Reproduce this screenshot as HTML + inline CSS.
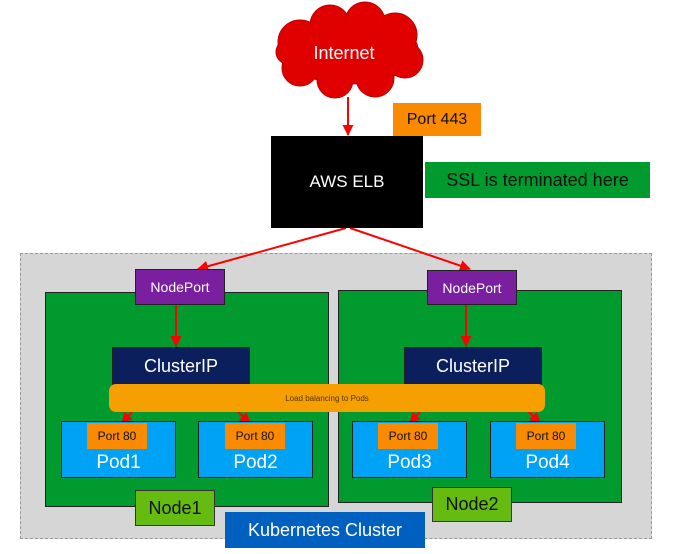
<!DOCTYPE html>
<html><head><style>
body{margin:0;width:674px;height:554px;background:#fff;position:relative;overflow:hidden;font-family:"Liberation Sans",sans-serif}
.b{position:absolute;box-sizing:border-box;display:flex;align-items:center;justify-content:center}
</style></head><body>
<div class="b" style="left:20px;top:253px;width:632px;height:286px;background:#d6d6d6;border:1px dashed #999"></div>
<div class="b" style="left:45px;top:292px;width:284px;height:215px;background:#009a2e;border:1px solid #222"></div>
<div class="b" style="left:338px;top:290px;width:284px;height:213px;background:#009a2e;border:1px solid #222"></div>
<svg style="position:absolute;left:0;top:0" width="674" height="554">
<defs><marker id="a" markerWidth="11" markerHeight="11" refX="10" refY="5.5" orient="auto" markerUnits="userSpaceOnUse"><path d="M0,0L11,5.5L0,11z" fill="#f00"/></marker></defs>
<g fill="#e00000" stroke="#b00" stroke-width="1">
<ellipse cx="350" cy="50" rx="68" ry="34"/>
<circle cx="300" cy="42" r="22"/><circle cx="330" cy="25" r="20"/><circle cx="365" cy="22" r="20"/><circle cx="395" cy="35" r="22"/><circle cx="405" cy="60" r="18"/><circle cx="375" cy="78" r="19"/><circle cx="335" cy="80" r="18"/><circle cx="300" cy="68" r="18"/><circle cx="288" cy="52" r="12"/>
</g>
<g fill="#e00000"><ellipse cx="350" cy="50" rx="66" ry="32"/><circle cx="330" cy="27" r="18"/><circle cx="365" cy="24" r="18"/><circle cx="395" cy="37" r="20"/><circle cx="300" cy="44" r="20"/><circle cx="375" cy="76" r="17"/><circle cx="335" cy="78" r="16"/><circle cx="300" cy="66" r="16"/><circle cx="403" cy="60" r="16"/></g>
<text x="344" y="59" fill="#fff" font-size="18" text-anchor="middle" font-family="Liberation Sans">Internet</text>
<g stroke="#f00" stroke-width="2" marker-end="url(#a)">
<line x1="348" y1="97" x2="348" y2="135"/>
<line x1="346" y1="228" x2="198" y2="269"/>
<line x1="350" y1="228" x2="470" y2="269"/>
<line x1="176" y1="305" x2="176" y2="346"/>
<line x1="466" y1="305" x2="466" y2="346"/>
<line x1="132" y1="412" x2="122" y2="423"/>
<line x1="236" y1="410" x2="250" y2="423"/>
<line x1="420" y1="412" x2="410" y2="423"/>
<line x1="527" y1="410" x2="540" y2="423"/>
</g>
</svg>
<div class="b" style="left:393px;top:103px;width:88px;height:33px;background:#fa8a00;font-size:16px;color:#111">Port 443</div>
<div class="b" style="left:271px;top:136px;width:152px;height:92px;background:#000;color:#fff;font-size:17px">AWS ELB</div>
<div class="b" style="left:425px;top:162px;width:225px;height:36px;background:#009a2e;color:#111;font-size:18px">SSL is terminated here</div>
<div class="b" style="left:135px;top:269px;width:90px;height:36px;background:#7a1fa0;border:1px solid #222;color:#fff;font-size:14px">NodePort</div>
<div class="b" style="left:427px;top:270px;width:90px;height:35px;background:#7a1fa0;border:1px solid #222;color:#fff;font-size:14px">NodePort</div>
<div class="b" style="left:112px;top:347px;width:138px;height:38px;background:#0a1f5c;border:1px solid #222;color:#fff;font-size:18px">ClusterIP</div>
<div class="b" style="left:404px;top:347px;width:138px;height:38px;background:#0a1f5c;border:1px solid #222;color:#fff;font-size:18px">ClusterIP</div>
<div class="b" style="left:109px;top:384px;width:436px;height:28px;background:#f5a000;border-radius:7px;color:#553300;font-size:8px">Load balancing to Pods</div>
<div class="b" style="left:61px;top:421px;width:115px;height:57px;background:#00a2f5;border:1px solid #222;color:#fff;font-size:19px;padding-top:26px">Pod1</div>
<div class="b" style="left:198px;top:421px;width:115px;height:57px;background:#00a2f5;border:1px solid #222;color:#fff;font-size:19px;padding-top:26px">Pod2</div>
<div class="b" style="left:352px;top:421px;width:115px;height:57px;background:#00a2f5;border:1px solid #222;color:#fff;font-size:19px;padding-top:26px">Pod3</div>
<div class="b" style="left:490px;top:421px;width:115px;height:57px;background:#00a2f5;border:1px solid #222;color:#fff;font-size:19px;padding-top:26px">Pod4</div>
<div class="b" style="left:87px;top:423px;width:60px;height:26px;background:#fa8a00;font-size:12px;color:#111">Port 80</div>
<div class="b" style="left:225px;top:423px;width:60px;height:26px;background:#fa8a00;font-size:12px;color:#111">Port 80</div>
<div class="b" style="left:378px;top:423px;width:60px;height:26px;background:#fa8a00;font-size:12px;color:#111">Port 80</div>
<div class="b" style="left:516px;top:423px;width:60px;height:26px;background:#fa8a00;font-size:12px;color:#111">Port 80</div>
<div class="b" style="left:135px;top:490px;width:80px;height:36px;background:#66bb10;border:1px solid #333;font-size:18px;color:#111">Node1</div>
<div class="b" style="left:432px;top:487px;width:80px;height:35px;background:#66bb10;border:1px solid #333;font-size:18px;color:#111">Node2</div>
<div class="b" style="left:225px;top:512px;width:200px;height:36px;background:#0060c0;font-size:18px;color:#fff">Kubernetes Cluster</div>
</body></html>
